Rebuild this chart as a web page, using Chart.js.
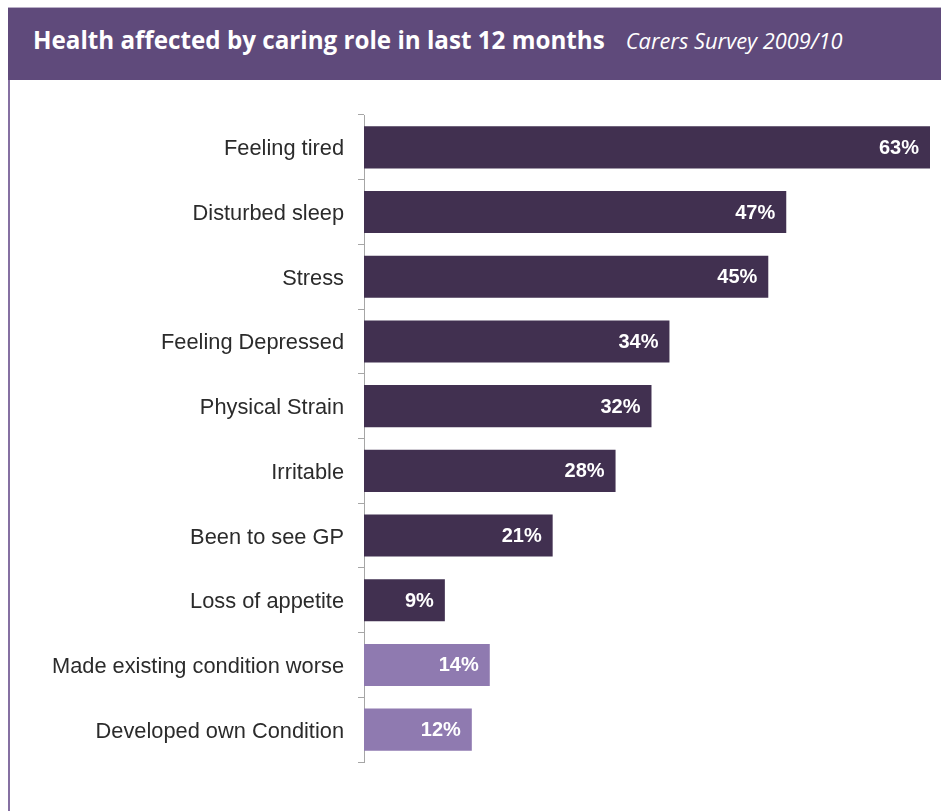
<!DOCTYPE html>
<html>
<head>
<meta charset="utf-8">
<title>Health affected by caring role</title>
<script src="https://cdn.jsdelivr.net/npm/chart.js@4/dist/chart.umd.min.js"></script>
<style>
  html, body { margin: 0; padding: 0; background: #fff; }
  body { width: 941px; height: 811px; position: relative; overflow: hidden; }
  #topline { position: absolute; left: 8px; right: 0; top: 7px; height: 1px; background: #b9afc6; }
  #header {
    position: absolute; left: 8px; right: 0; top: 8px; height: 72px;
    background: #5f4a7b; color: #fff; white-space: nowrap;
  }
  #header .title {
    position: absolute; left: 25px; top: 15px; line-height: 30px;
    font: bold 24.2px "Open Sans", Lato, sans-serif;
  }
  #header .sub { font: italic 21.8px "Open Sans", Lato, sans-serif; margin-left: 21px; }
  #leftline { position: absolute; left: 8px; top: 80px; bottom: 0; width: 2px; background: #8570a2; }
  #chart { position: absolute; left: 0; top: 0; }
</style>
</head>
<body>
<canvas id="chart" width="941" height="811"></canvas>
<div id="topline"></div>
<div id="header"><div class="title">Health affected by caring role in last 12 months<span class="sub">Carers Survey 2009/10</span></div></div>
<div id="leftline"></div>
<script>
const categories = [
    'Feeling tired',
    'Disturbed sleep',
    'Stress',
    'Feeling Depressed',
    'Physical Strain',
    'Irritable',
    'Been to see GP',
    'Loss of appetite',
    'Made existing condition worse',
    'Developed own Condition'
];
const percentages = [63, 47, 45, 34, 32, 28, 21, 9, 14, 12];
const groups = ['symptom', 'symptom', 'symptom', 'symptom', 'symptom', 'symptom', 'symptom', 'symptom', 'condition', 'condition'];

const groupColors = { symptom: '#413050', condition: '#8f7ab0' };

// writes the percentage inside the right end of each bar
const valueLabels = {
    id: 'valueLabels',
    afterDatasetsDraw(chart) {
        const ctx = chart.ctx;
        const meta = chart.getDatasetMeta(0);
        ctx.save();
        ctx.font = 'bold 20px "Liberation Sans", Arial, sans-serif';
        ctx.fillStyle = '#ffffff';
        ctx.textAlign = 'right';
        ctx.textBaseline = 'middle';
        meta.data.forEach((bar, i) => {
            ctx.fillText(percentages[i] + '%', bar.x - 11, bar.y + 1);
        });
        ctx.restore();
    }
};

const ctx = document.getElementById('chart').getContext('2d');
new Chart(ctx, {
    type: 'bar',
    data: {
        labels: categories,
        datasets: [{
            data: percentages,
            backgroundColor: groups.map(g => groupColors[g]),
            borderWidth: 0,
            categoryPercentage: 1,
            barPercentage: 0.65
        }]
    },
    options: {
        indexAxis: 'y',
        responsive: false,
        animation: false,
        layout: { padding: { top: 115, bottom: 49, right: 11, left: 0 } },
        plugins: {
            legend: { display: false },
            tooltip: { enabled: false }
        },
        scales: {
            x: { display: false, min: 0, max: 63 },
            y: {
                afterFit: (scale) => { scale.width = 364; },
                border: { display: true, color: '#a6a6a6', width: 1 },
                grid: {
                    display: true,
                    drawOnChartArea: false,
                    drawTicks: true,
                    tickLength: 6,
                    offset: true,
                    color: '#a6a6a6'
                },
                ticks: {
                    padding: 14,
                    labelOffset: 2,
                    color: '#2b2b2b',
                    font: { family: '"Liberation Sans", Arial, sans-serif', size: 21.8 }
                }
            }
        }
    },
    plugins: [valueLabels]
});
</script>
</body>
</html>
